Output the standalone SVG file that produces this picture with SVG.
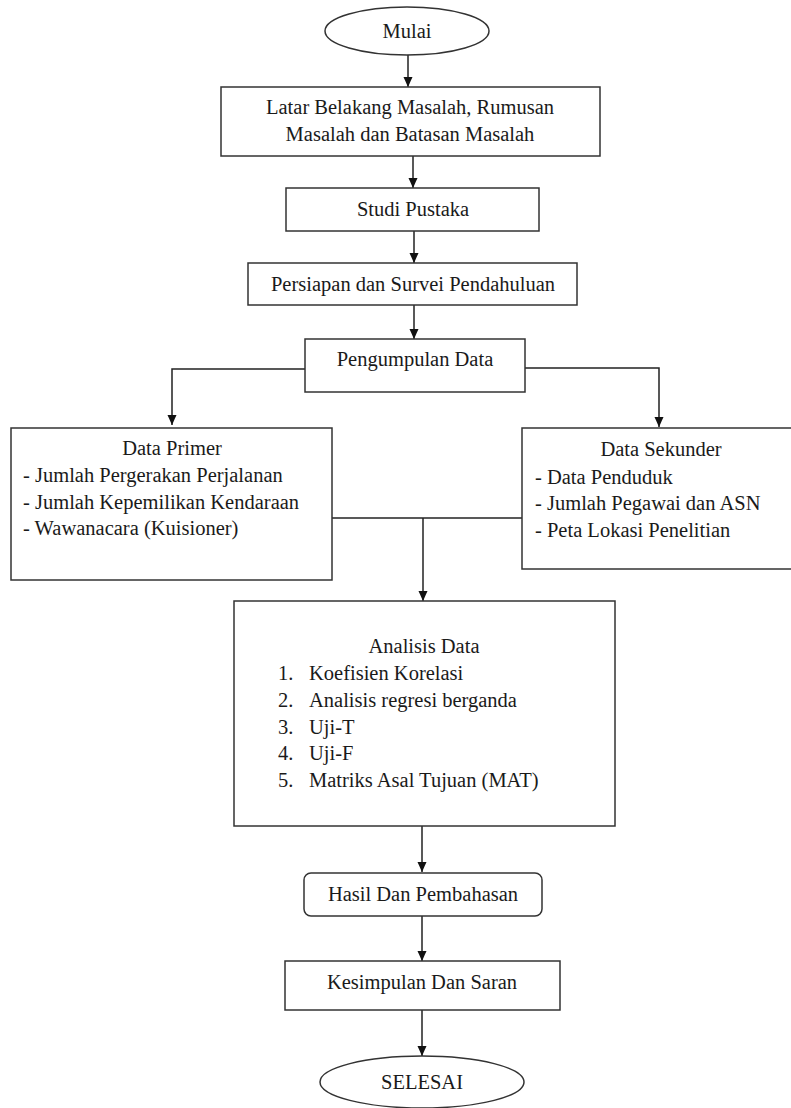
<svg xmlns="http://www.w3.org/2000/svg" width="791" height="1108" viewBox="0 0 791 1108">
<style>
.b{fill:#fff;stroke:#333;stroke-width:1.5}
.c{text-anchor:middle}
.l{fill:none;stroke:#222;stroke-width:1.5}
</style>
<defs>
<marker id="ah" markerWidth="10" markerHeight="10" viewBox="0 0 10 10" refX="10" refY="5" orient="auto" markerUnits="userSpaceOnUse">
<path d="M0,0.5 L10,5 L0,9.5 Z" fill="#111"/>
</marker>
</defs>
<rect width="791" height="1108" fill="#fff"/>
<g id="connectors">
<line class="l" x1="408" y1="55" x2="408" y2="87" marker-end="url(#ah)"/>
<line class="l" x1="413" y1="156" x2="413" y2="188" marker-end="url(#ah)"/>
<line class="l" x1="414" y1="231" x2="414" y2="263" marker-end="url(#ah)"/>
<line class="l" x1="414" y1="305" x2="414" y2="339" marker-end="url(#ah)"/>
<polyline class="l" points="305,369 172,369 172,425" marker-end="url(#ah)"/>
<polyline class="l" points="525,368 659,368 659,427" marker-end="url(#ah)"/>
<line class="l" x1="332" y1="518" x2="525" y2="518"/>
<line class="l" x1="423" y1="518" x2="423" y2="601" marker-end="url(#ah)"/>
<line class="l" x1="422" y1="826" x2="422" y2="872" marker-end="url(#ah)"/>
<line class="l" x1="422" y1="916" x2="422" y2="961" marker-end="url(#ah)"/>
<line class="l" x1="422" y1="1010" x2="422" y2="1056" marker-end="url(#ah)"/>
</g>
<g font-family="Liberation Serif, Times New Roman, serif" font-size="20.5" fill="#1a1a1a">
<g id="mulai">
<ellipse class="b" cx="407" cy="31" rx="82" ry="24"/>
<text class="c" x="407" y="38">Mulai</text>
</g>
<g id="latar">
<rect class="b" x="221" y="87" width="379" height="69"/>
<text class="c" x="410" y="114">Latar Belakang Masalah, Rumusan</text>
<text class="c" x="410" y="141">Masalah dan Batasan Masalah</text>
</g>
<g id="studi">
<rect class="b" x="286" y="188" width="253" height="43"/>
<text class="c" x="413" y="216">Studi Pustaka</text>
</g>
<g id="persiapan">
<rect class="b" x="248" y="263" width="329" height="42"/>
<text class="c" x="413" y="291">Persiapan dan Survei Pendahuluan</text>
</g>
<g id="pengumpulan">
<rect class="b" x="305" y="339" width="220" height="53"/>
<text class="c" x="415" y="366">Pengumpulan Data</text>
</g>
<g id="primer">
<rect class="b" x="11" y="428" width="321" height="152"/>
<text class="c" x="172" y="455">Data Primer</text>
<text x="23" y="482">- Jumlah Pergerakan Perjalanan</text>
<text x="23" y="509">- Jumlah Kepemilikan Kendaraan</text>
<text x="23" y="535">- Wawanacara (Kuisioner)</text>
</g>
<g id="sekunder">
<rect class="b" x="522" y="428" width="275" height="141"/>
<text class="c" x="661" y="456">Data Sekunder</text>
<text x="535" y="484">- Data Penduduk</text>
<text x="535" y="510">- Jumlah Pegawai dan ASN</text>
<text x="535" y="537">- Peta Lokasi Penelitian</text>
</g>
<g id="analisis">
<rect class="b" x="234" y="601" width="381" height="225"/>
<text class="c" x="424" y="653">Analisis Data</text>
<text x="278" y="680">1.</text><text x="309" y="680">Koefisien Korelasi</text>
<text x="278" y="707">2.</text><text x="309" y="707">Analisis regresi berganda</text>
<text x="278" y="734">3.</text><text x="309" y="734">Uji-T</text>
<text x="278" y="760">4.</text><text x="309" y="760">Uji-F</text>
<text x="278" y="787">5.</text><text x="309" y="787">Matriks Asal Tujuan (MAT)</text>
</g>
<g id="hasil">
<rect class="b" x="304" y="873" width="238" height="43" rx="7"/>
<text class="c" x="423" y="901">Hasil Dan Pembahasan</text>
</g>
<g id="kesimpulan">
<rect class="b" x="285" y="961" width="275" height="49"/>
<text class="c" x="422" y="989">Kesimpulan Dan Saran</text>
</g>
<g id="selesai">
<ellipse class="b" cx="422" cy="1082" rx="102" ry="26"/>
<text class="c" x="422" y="1089">SELESAI</text>
</g>
</g>
</svg>
